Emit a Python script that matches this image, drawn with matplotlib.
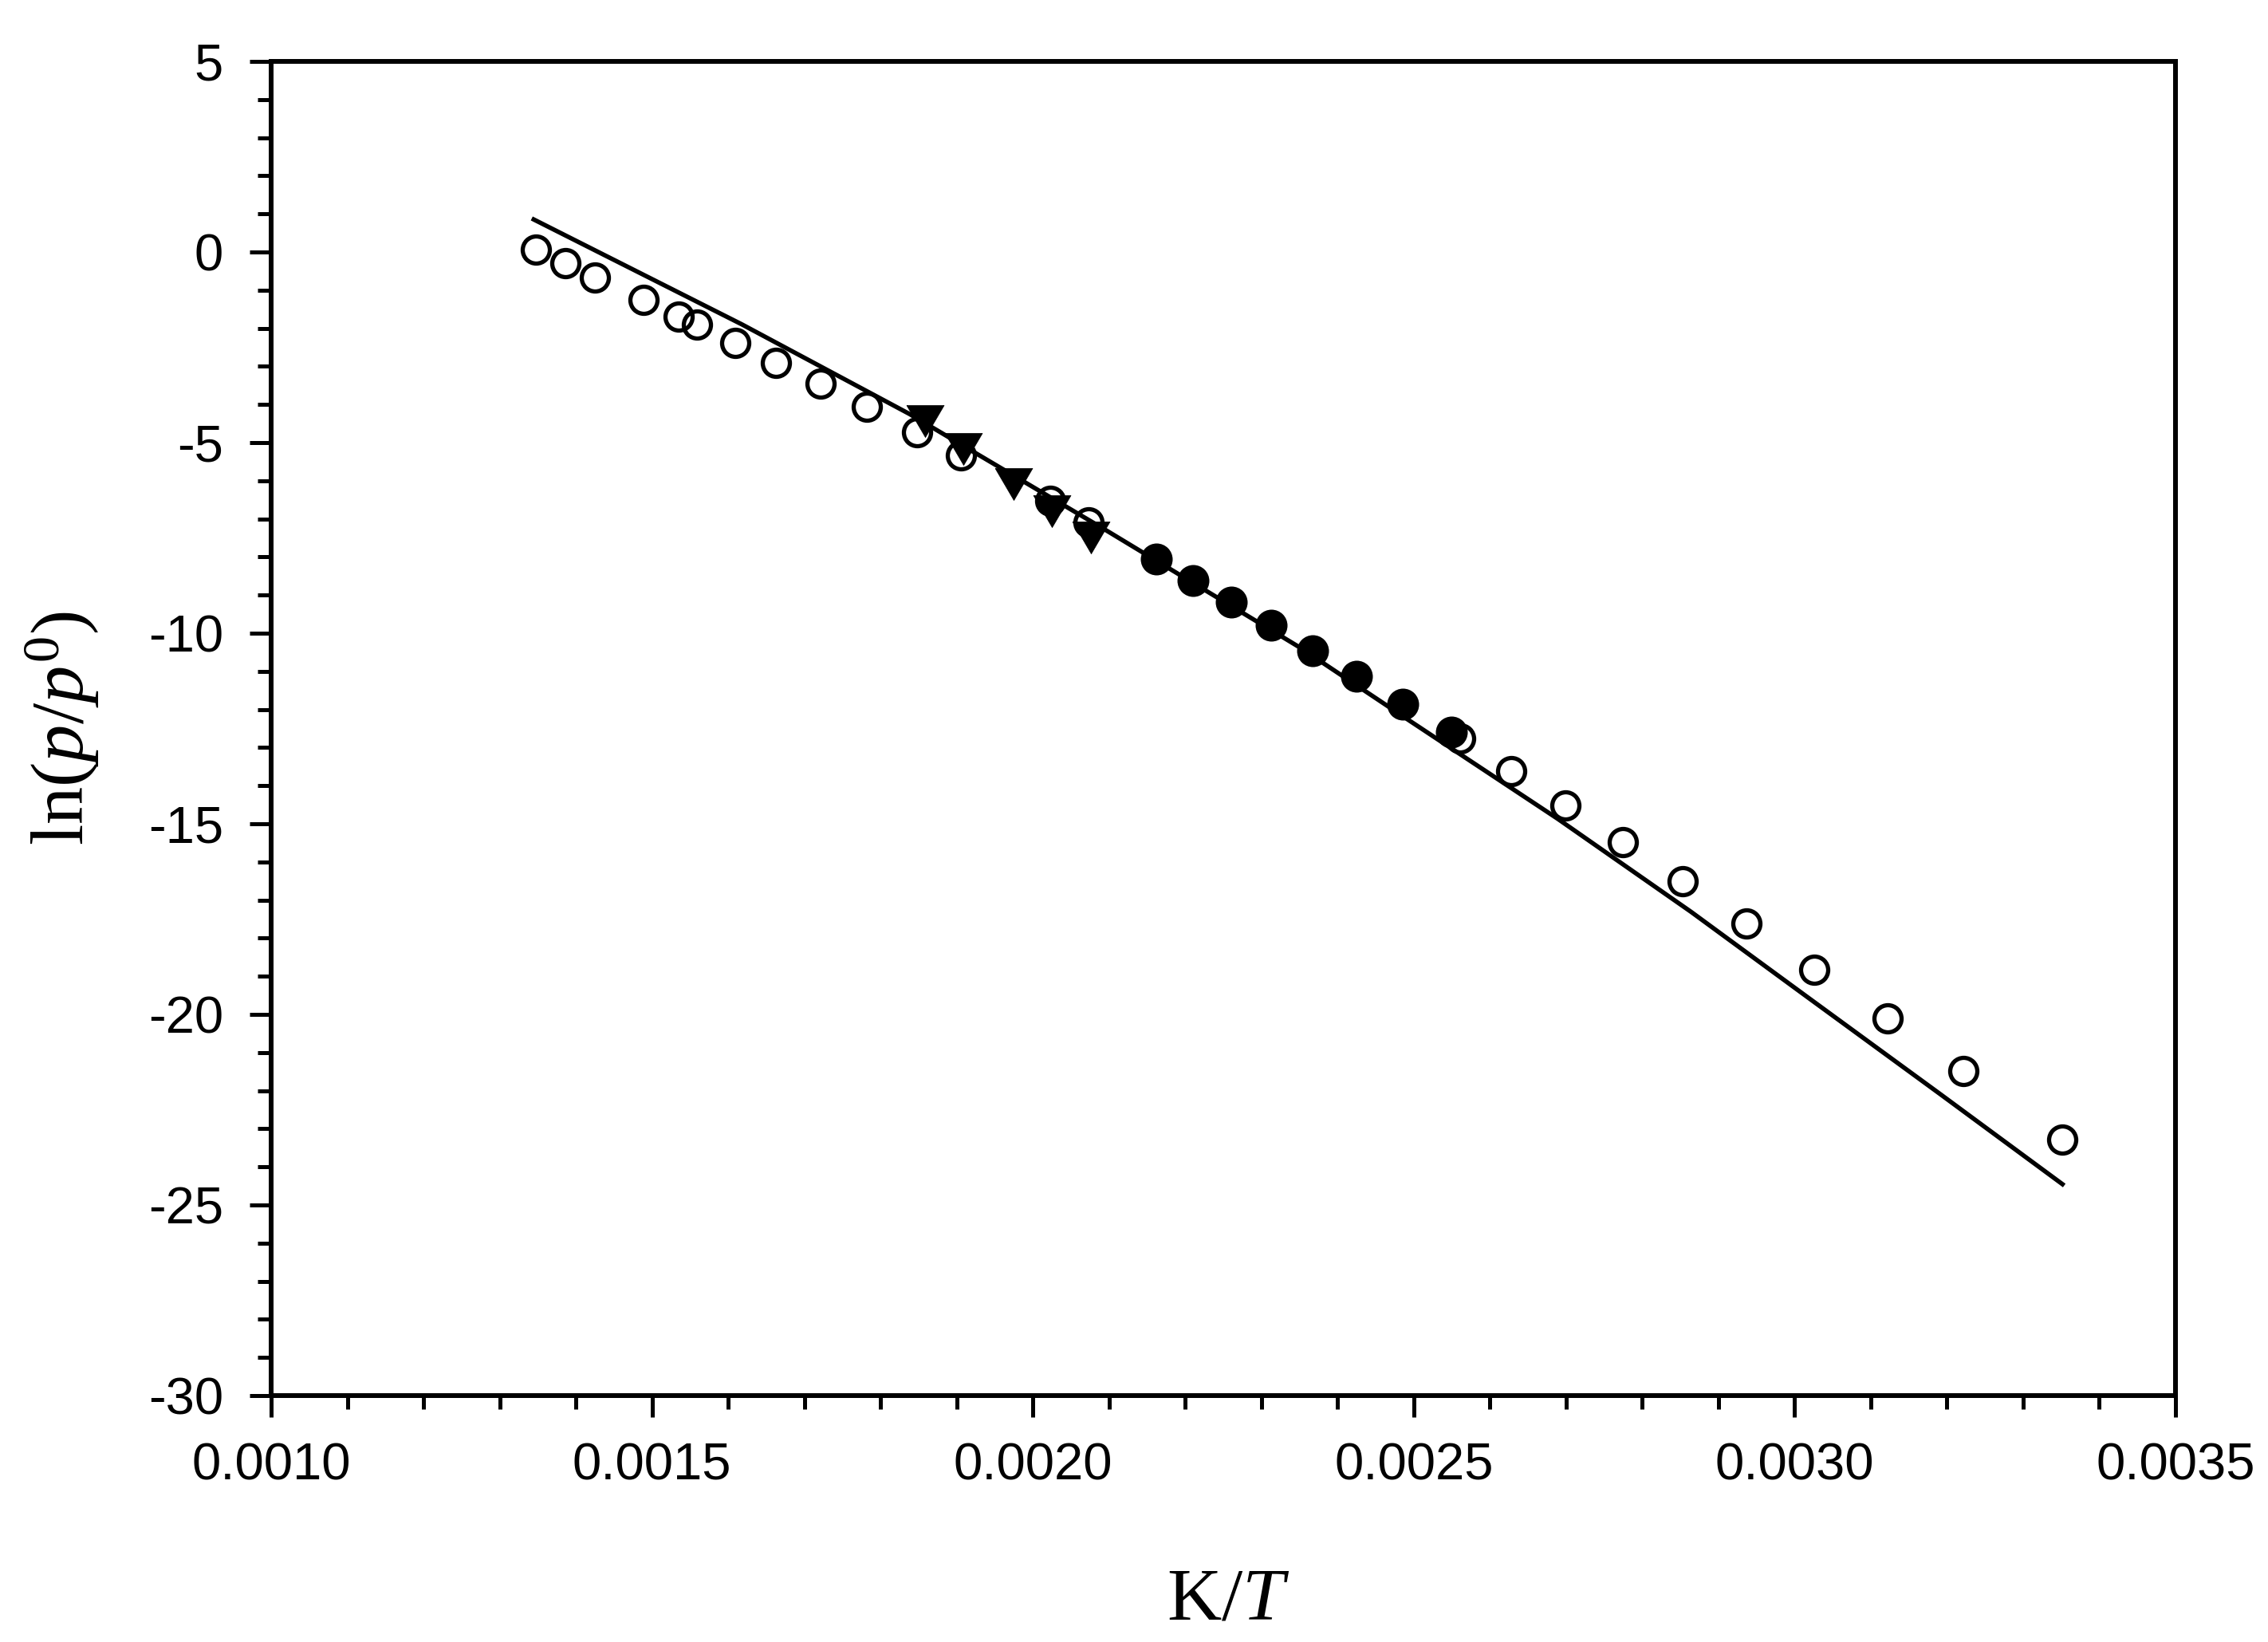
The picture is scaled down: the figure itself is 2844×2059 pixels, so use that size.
"""
ln(p/p0) vs K/T  -- vapour pressure plot
"""

import matplotlib
matplotlib.use("Agg")
import matplotlib.pyplot as plt
from matplotlib.ticker import MultipleLocator, FormatStrFormatter

plt.rcParams['font.family'] = ['Liberation Sans', 'DejaVu Sans']
plt.rcParams['axes.unicode_minus'] = False
plt.rcParams['mathtext.fontset'] = 'custom'
plt.rcParams['mathtext.rm'] = 'Liberation Serif'
plt.rcParams['mathtext.it'] = 'Liberation Serif:italic'

# data
open_x = [0.001347, 0.001386, 0.001425, 0.001489, 0.001535, 0.001559, 0.001609,
          0.001663, 0.001721, 0.001782, 0.001848, 0.001906, 0.002023, 0.002073,
          0.002561, 0.002628, 0.002699, 0.002775, 0.002853, 0.002937, 0.003026,
          0.003122, 0.003222, 0.003351]
open_y = [0.06, -0.29, -0.66, -1.26, -1.69, -1.91, -2.38, -2.91, -3.45, -4.06,
          -4.72, -5.33, -6.53, -7.09, -12.76, -13.61, -14.52, -15.48, -16.51,
          -17.62, -18.82, -20.10, -21.49, -23.28]

tri_x = [0.001858, 0.001909, 0.001975, 0.002025, 0.002076]
tri_y = [-4.43, -5.17, -6.08, -6.80, -7.48]

filled_x = [0.002162, 0.002210, 0.002260, 0.002313, 0.002367, 0.002425, 0.002485, 0.002549]
filled_y = [-8.05, -8.61, -9.19, -9.79, -10.46, -11.14, -11.87, -12.59]

fit_x = [0.001342, 0.001618, 0.001838, 0.002096, 0.002350, 0.002494, 0.002689,
         0.002864, 0.003017, 0.003191, 0.003354]
fit_y = [0.88, -1.90, -4.25, -7.30, -10.37, -12.29, -14.87, -17.31, -19.55,
         -22.09, -24.49]

fig = plt.figure(figsize=(28.44, 20.59), dpi=100)
ax = fig.add_axes([0.1196, 0.1501, 0.8396, 0.8125])

# fitted curve
ax.plot(fit_x, fit_y, color='black', lw=4.0, zorder=2, solid_capstyle='butt')

# open circles
ax.plot(open_x, open_y, linestyle='none', marker='o', ms=24.5, mfc='none',
        mec='black', mew=3.8, zorder=3)

# filled triangles (slightly wider than tall)
tri_marker = [(-1.17, 1.0), (1.17, 1.0), (0.0, -1.0), (-1.17, 1.0)]
ax.plot(tri_x, tri_y, linestyle='none', marker=tri_marker, ms=33.8, mfc='black',
        mec='black', mew=0.5, zorder=4)

# filled circles
ax.plot(filled_x, filled_y, linestyle='none', marker='o', ms=28.8, mfc='black',
        mec='black', mew=0, zorder=5)

ax.set_xlim(0.0010, 0.0035)
ax.set_ylim(-30, 5)

ax.xaxis.set_major_locator(MultipleLocator(0.0005))
ax.xaxis.set_minor_locator(MultipleLocator(0.0001))
ax.xaxis.set_major_formatter(FormatStrFormatter('%.4f'))
ax.yaxis.set_major_locator(MultipleLocator(5))
ax.yaxis.set_minor_locator(MultipleLocator(1))

for sp in ax.spines.values():
    sp.set_linewidth(4.3)

ax.tick_params(which='both', direction='out', top=False, right=False, width=3.6)
ax.tick_params(which='major', length=19.4, labelsize=47)
ax.tick_params(which='minor', length=12)
ax.tick_params(axis='x', which='major', pad=23)
ax.tick_params(axis='y', which='major', pad=24)

ax.set_xlabel(r'K/$\mathit{T}$', fontsize=68, family='Liberation Serif')
ax.set_ylabel(r'ln($\mathit{p}$/$\mathit{p}^{0}$)', fontsize=68, family='Liberation Serif')
ax.xaxis.set_label_coords(0.5025, -0.1291)
ax.yaxis.set_label_coords(-0.0892, 0.5)

fig.savefig('out.png', dpi=100)
